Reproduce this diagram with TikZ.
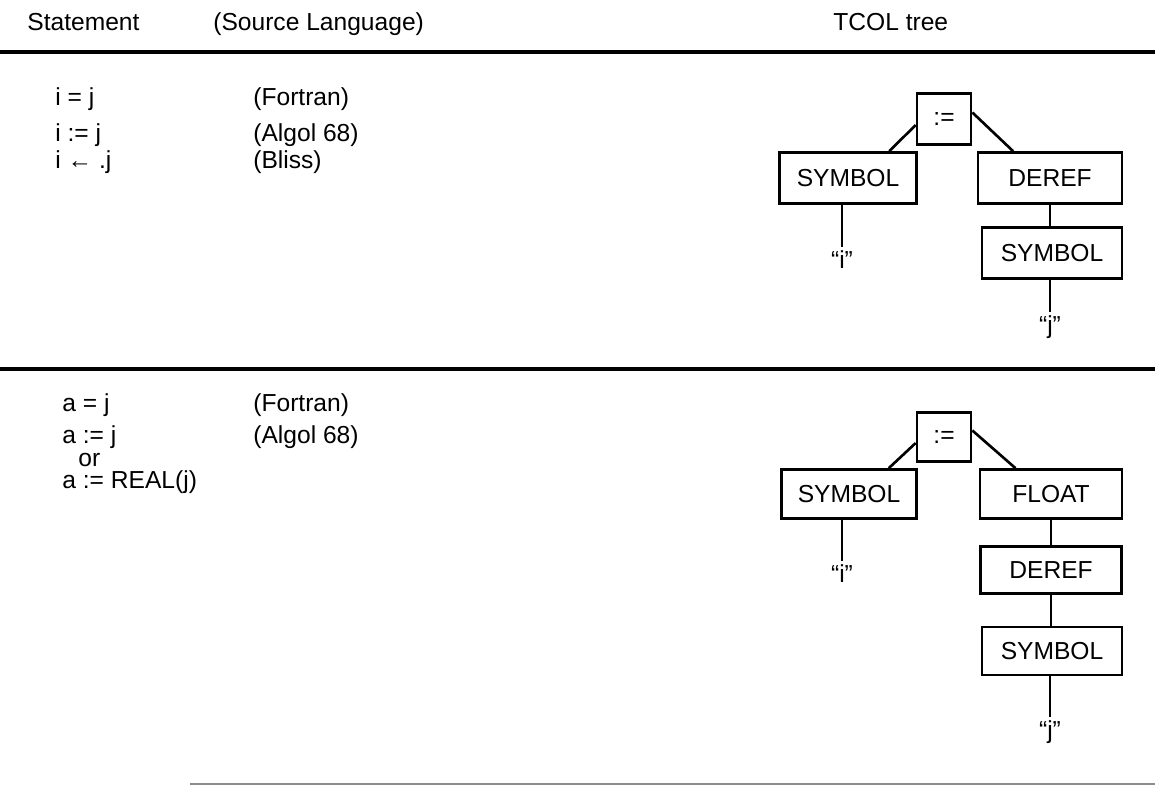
\documentclass[tikz,border=0pt]{standalone}
\usepackage{fontspec}
\setmainfont{Liberation Sans}
\usetikzlibrary{positioning}
\tikzset{
  tbox/.style={rectangle,draw,line width=1.5pt,inner sep=0pt,minimum height=1.02cm,font=\fontsize{14}{16}\selectfont},
  opbox/.style={tbox,minimum width=1.08cm,minimum height=1.02cm},
  txt/.style={anchor=base west,inner sep=0pt,font=\fontsize{14}{16}\selectfont},
  leaf/.style={inner sep=0pt,font=\fontsize{14}{16}\selectfont},
  ln/.style={line width=1.5pt},
  rule/.style={line width=2pt},
}

\begin{document}
\begin{tikzpicture}[x=0.02cm,y=-0.02cm]
  \useasboundingbox (0,0) rectangle (1155,786);
  % header
  \node[txt] (hStmt) at (27,31)  {Statement};
  \node[txt] (hLang) at (213,31) {(Source Language)};
  \node[txt] (hTree) at (833,31) {TCOL tree};
  \draw[rule] (0,52) -- (1155,52);
  \draw[rule] (0,369) -- (1155,369);
  \draw[line width=1pt,black!45] (190,784) -- (1155,784);

  % first group
  \node[txt] (s1) at (55,106) {i = j};
  \node[txt] (l1) at (253,106) {(Fortran)};
  \node[txt] (s2) at (55,142) {i := j};
  \node[txt] (l2) at (253,142) {(Algol 68)};
  \node[txt] (s3) at (55,169) {i ← .j};
  \node[txt] (l3) at (253,169) {(Bliss)};

  \node[opbox] (asgA) at (944,119) {:=};
  \node[tbox,minimum width=2.74cm] (symA) at (848,178) {SYMBOL};
  \node[tbox,minimum width=2.88cm] (derefA) at (1050,178) {DEREF};
  \node[tbox,minimum width=2.8cm] (symAj) at (1052,253) {SYMBOL};
  \node[leaf] (qiA) at (842,260) {``i''};
  \node[leaf] (qjA) at (1050,327) {``j''};
  \draw[ln] (asgA.192) -- (symA.33);
  \draw[ln] (asgA.13) -- (derefA.144);
  \draw[ln] (symA.south -| qiA) -- ([yshift=2pt]qiA.north);
  \draw[ln] (derefA.south) -- (derefA.south |- symAj.north);
  \draw[ln] (symAj.south -| qjA) -- ([yshift=2pt]qjA.north);

  % second group
  \node[txt] (s4) at (62,412) {a = j};
  \node[txt] (l4) at (253,412) {(Fortran)};
  \node[txt] (s5) at (62,444) {a := j};
  \node[txt] (l5) at (253,444) {(Algol 68)};
  \node[txt] (s6) at (78,467) {or};
  \node[txt] (s7) at (62,489) {a := REAL(j)};

  \node[opbox,minimum height=0.98cm] (asgB) at (944,437) {:=};
  \node[tbox,minimum width=2.7cm,minimum height=0.98cm] (symB) at (849,494) {SYMBOL};
  \node[tbox,minimum width=2.84cm,minimum height=0.98cm] (floatB) at (1051,494) {FLOAT};
  \node[tbox,minimum width=2.82cm,minimum height=0.94cm] (derefB) at (1051,570) {DEREF};
  \node[tbox,minimum width=2.8cm,minimum height=0.96cm] (symBj) at (1052,651) {SYMBOL};
  \node[leaf] (qiB) at (842,574) {``i''};
  \node[leaf] (qjB) at (1050,732) {``j''};
  \draw[ln] (asgB.192) -- (symB.33);
  \draw[ln] (asgB.13) -- (floatB.144);
  \draw[ln] (symB.south -| qiB) -- ([yshift=2pt]qiB.north);
  \draw[ln] (floatB.south) -- (floatB.south |- derefB.north);
  \draw[ln] (derefB.south) -- (derefB.south |- symBj.north);
  \draw[ln] (symBj.south -| qjB) -- ([yshift=2pt]qjB.north);
\end{tikzpicture}
\end{document}
